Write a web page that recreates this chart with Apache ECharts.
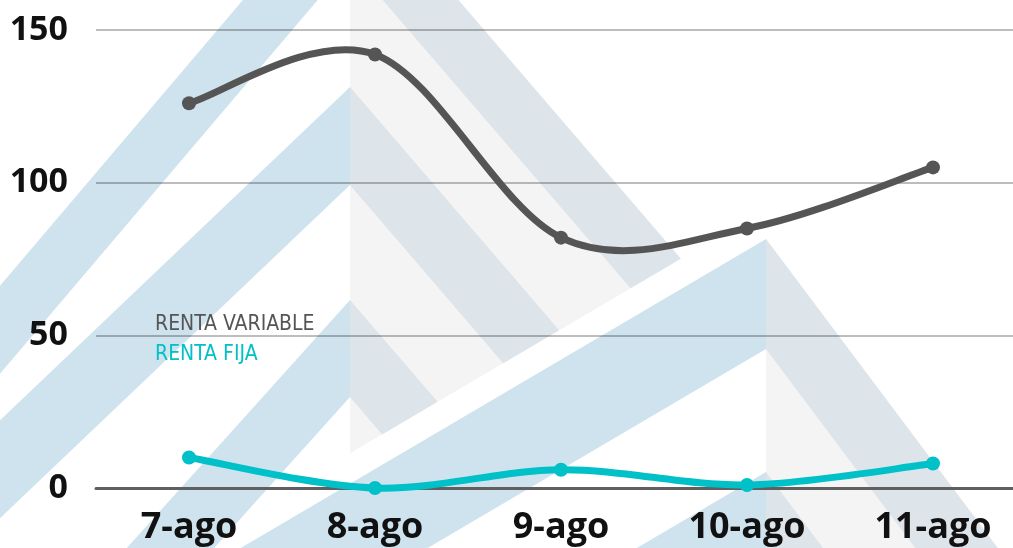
<!DOCTYPE html>
<html><head><meta charset="utf-8">
<script src="https://cdn.jsdelivr.net/npm/echarts@6/dist/echarts.min.js"></script>
<style>html,body{margin:0;padding:0;background:#fff}#c{width:1013px;height:548px}</style>
</head><body><div id="c"></div>
<script>
// ---- data ----
const categories = ['7-ago', '8-ago', '9-ago', '10-ago', '11-ago'];
const rentaVariable = [126, 142, 82, 85, 105];
const rentaFija = [10, 0, 6, 1, 8];
const seriesNames = ['RENTA VARIABLE', 'RENTA FIJA'];
const yMin = 0, yMax = 150, yInterval = 50;

// ---- colours ----
const GREY = '#555555', CYAN = '#00c0c8';
const BLUE = '#cfe3ee', GREYBLUE = '#dde4ea', LIGHT = '#f4f4f4';

// ---- decorative watermark (background logo) ----
const wm = [];
function poly(points, fill) {
  wm.push({ type: 'polygon', z: -10, silent: true, shape: { points: points }, style: { fill: fill } });
}
const BOT = 700;
// logo 1
(function () {
  const ax = 350, kr = 0.86;
  const bands = [[-126, -38, 0.85], [87, 185, 1.05], [300, 397, 0.9], [512, 610, 0.9]];
  const cx = 631, cy = 288, m = 1.7;
  const yAx = cy + (cx - ax) / m;
  const hit = y0 => { const y = (cx + cy * m - ax + kr * y0) / (kr + m); return [ax + kr * (y - y0), y]; };
  poly([[ax, bands[0][0]], hit(bands[0][0]), [ax, yAx]], LIGHT);
  bands.forEach(([o, i, kl]) => {
    poly([[ax, o], [ax, i], [ax - kl * (BOT - i), BOT], [ax - kl * (BOT - o), BOT]], BLUE);
    if (o < yAx) {
      if (i < yAx) poly([[ax, o], hit(o), hit(i), [ax, i]], GREYBLUE);
      else poly([[ax, o], hit(o), [ax, yAx]], GREYBLUE);
    }
  });
})();
// logo 2
(function () {
  const ax = 766, kl = 1.7, kr = 0.75;
  const bands = [[239, 349], [472, 582]];
  poly([[ax, bands[0][0]], [ax + kr * (BOT - bands[0][0]), BOT], [ax, BOT]], LIGHT);
  bands.forEach(([o, i]) => {
    poly([[ax, o], [ax, i], [ax - kl * (BOT - i), BOT], [ax - kl * (BOT - o), BOT]], BLUE);
    poly([[ax, o], [ax + kr * (BOT - o), BOT], [ax + kr * (BOT - i), BOT], [ax, i]], GREYBLUE);
  });
})();

// ---- spreadsheet-style smoothed line drawn through the chart's own scales ----
function smoothLine(color) {
  return function (params, api) {
    const n = params.dataInsideLength;
    const i = params.dataIndexInside;
    const pt = j => {
      j = Math.max(0, Math.min(n - 1, j));
      return api.coord([api.value(0, j), api.value(1, j)]);
    };
    const p0 = pt(i - 1), p1 = pt(i), p2 = pt(i + 1), p3 = pt(i + 2);
    const children = [];
    if (i < n - 1) {
      children.push({
        type: 'bezierCurve', z2: 1,
        shape: {
          x1: p1[0], y1: p1[1], x2: p2[0], y2: p2[1],
          cpx1: p1[0] + (p2[0] - p0[0]) / 6, cpy1: p1[1] + (p2[1] - p0[1]) / 6,
          cpx2: p2[0] - (p3[0] - p1[0]) / 6, cpy2: p2[1] - (p3[1] - p1[1]) / 6
        },
        style: { stroke: color, lineWidth: 7, fill: null, lineCap: 'round' }
      });
    }
    children.push({ type: 'circle', z2: 10, shape: { cx: p1[0], cy: p1[1], r: 7 }, style: { fill: color } });
    return { type: 'group', children: children };
  };
}

const chart = echarts.init(document.getElementById('c'));
chart.setOption({
  backgroundColor: '#ffffff',
  animation: false,
  graphic: { elements: wm },
  grid: { left: 96, top: 30, width: 930, height: 458, outerBoundsMode: 'none', containLabel: false },
  legend: {
    orient: 'vertical', left: 150, top: 313, padding: 0,
    itemWidth: 0, itemHeight: 0, itemGap: 7,
    selectedMode: false,
    textStyle: { fontFamily: '"Liberation Sans Narrow", "DejaVu Sans Condensed", sans-serif', fontSize: 21, lineHeight: 23 },
    data: [
      { name: seriesNames[0], textStyle: { color: GREY } },
      { name: seriesNames[1], textStyle: { color: CYAN } }
    ]
  },
  xAxis: {
    type: 'category', data: categories, boundaryGap: true,
    axisLine: { show: true, lineStyle: { color: '#5f5f5f', width: 3 } },
    axisTick: { show: false },
    axisLabel: { fontFamily: '"Open Sans", sans-serif', fontWeight: 'bold', fontSize: 36, color: '#111', margin: 22 }
  },
  yAxis: {
    type: 'value', min: yMin, max: yMax, interval: yInterval,
    axisLine: { show: false }, axisTick: { show: false },
    axisLabel: { fontFamily: '"Open Sans", sans-serif', fontWeight: 'bold', fontSize: 34, color: '#111', margin: 28 },
    splitLine: { lineStyle: { color: 'rgba(0,0,0,0.26)', width: 2 } }
  },
  series: [
    { name: seriesNames[0], type: 'custom', coordinateSystem: 'cartesian2d', z: 3,
      itemStyle: { color: GREY },
      data: categories.map((c, i) => [i, rentaVariable[i]]),
      renderItem: smoothLine(GREY) },
    { name: seriesNames[1], type: 'custom', coordinateSystem: 'cartesian2d', z: 2,
      itemStyle: { color: CYAN },
      data: categories.map((c, i) => [i, rentaFija[i]]),
      renderItem: smoothLine(CYAN) }
  ]
});
</script></body></html>
